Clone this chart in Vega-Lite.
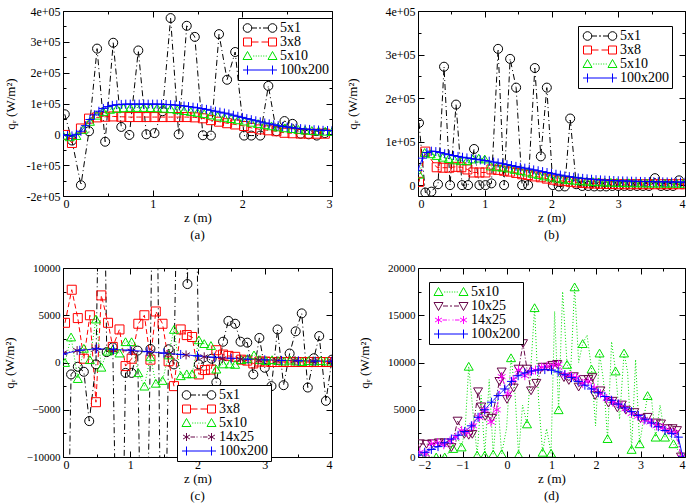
{
"$schema":"https://vega.github.io/schema/vega-lite/v6.json",
"padding":{"left":2,"top":4,"right":2,"bottom":4},
"columns":2,
"spacing":{"row":18,"column":13},
"resolve":{"scale":{"color":"independent","shape":"independent","strokeDash":"independent"}},
"config":{
 "font":"Liberation Serif",
 "view":{"stroke":"#000","strokeWidth":1},
 "axis":{"grid":false,"domain":false,"tickColor":"#000","tickWidth":1,"labelColor":"#000","titleColor":"#000","labelFont":"Liberation Serif","labelFontSize":12,"titleFont":"Liberation Serif","titleFontSize":13,"titleFontWeight":"normal"},
 "legend":{"title":null,"orient":"none","strokeColor":"#000","fillColor":"#fff","padding":3,"labelFont":"Liberation Serif","labelFontSize":14,"labelColor":"#000","symbolOffset":12,"labelOffset":13,"rowPadding":-3,"symbolStrokeWidth":1,"symbolFillColor":"transparent"},
 "title":{"font":"Liberation Serif","fontSize":13,"fontWeight":"normal","orient":"bottom","offset":5,"color":"#000"}
},
"datasets":{
"a":[
{"s":"5x1","z":0.02,"q":65000},{"s":"5x1","z":0.1,"q":-20000},{"s":"5x1","z":0.2,"q":-165000},{"s":"5x1","z":0.29,"q":10000},{"s":"5x1","z":0.38,"q":278000},{"s":"5x1","z":0.47,"q":-24000},{"s":"5x1","z":0.56,"q":297000},{"s":"5x1","z":0.65,"q":24000},{"s":"5x1","z":0.74,"q":-2000},{"s":"5x1","z":0.84,"q":272000},{"s":"5x1","z":0.93,"q":0},{"s":"5x1","z":1.02,"q":4000},{"s":"5x1","z":1.11,"q":75000},{"s":"5x1","z":1.2,"q":377000},{"s":"5x1","z":1.29,"q":0},{"s":"5x1","z":1.38,"q":352000},{"s":"5x1","z":1.47,"q":316000},{"s":"5x1","z":1.56,"q":-3000},{"s":"5x1","z":1.65,"q":-4000},{"s":"5x1","z":1.74,"q":325000},{"s":"5x1","z":1.83,"q":177000},{"s":"5x1","z":1.92,"q":267000},{"s":"5x1","z":2.02,"q":-4000},{"s":"5x1","z":2.1,"q":-4000},{"s":"5x1","z":2.2,"q":-4000},{"s":"5x1","z":2.29,"q":157000},{"s":"5x1","z":2.38,"q":10000},{"s":"5x1","z":2.47,"q":43000},{"s":"5x1","z":2.56,"q":34000},{"s":"5x1","z":2.65,"q":2000},{"s":"5x1","z":2.74,"q":0},{"s":"5x1","z":2.83,"q":-4000},{"s":"5x1","z":2.92,"q":4000},
{"s":"3x8","z":0.02,"q":-2000},{"s":"3x8","z":0.1,"q":-28000},{"s":"3x8","z":0.2,"q":19000},{"s":"3x8","z":0.29,"q":51000},{"s":"3x8","z":0.38,"q":55000},{"s":"3x8","z":0.47,"q":57000},{"s":"3x8","z":0.56,"q":58000},{"s":"3x8","z":0.65,"q":57000},{"s":"3x8","z":0.74,"q":56000},{"s":"3x8","z":0.84,"q":56000},{"s":"3x8","z":0.93,"q":56000},{"s":"3x8","z":1.02,"q":56000},{"s":"3x8","z":1.11,"q":56000},{"s":"3x8","z":1.2,"q":56000},{"s":"3x8","z":1.29,"q":56000},{"s":"3x8","z":1.38,"q":56000},{"s":"3x8","z":1.47,"q":55000},{"s":"3x8","z":1.56,"q":52000},{"s":"3x8","z":1.65,"q":46000},{"s":"3x8","z":1.74,"q":41000},{"s":"3x8","z":1.83,"q":36000},{"s":"3x8","z":1.92,"q":32000},{"s":"3x8","z":2.02,"q":27000},{"s":"3x8","z":2.1,"q":21000},{"s":"3x8","z":2.2,"q":16000},{"s":"3x8","z":2.29,"q":13000},{"s":"3x8","z":2.38,"q":10000},{"s":"3x8","z":2.47,"q":5000},{"s":"3x8","z":2.56,"q":3500},{"s":"3x8","z":2.65,"q":2500},{"s":"3x8","z":2.74,"q":2000},{"s":"3x8","z":2.83,"q":2000},{"s":"3x8","z":2.92,"q":2000},
{"s":"5x10","z":0,"q":-3000},{"s":"5x10","z":0.075,"q":-8000},{"s":"5x10","z":0.15,"q":-4000},{"s":"5x10","z":0.225,"q":16000},{"s":"5x10","z":0.3,"q":42000},{"s":"5x10","z":0.375,"q":62000},{"s":"5x10","z":0.45,"q":74000},{"s":"5x10","z":0.525,"q":81000},{"s":"5x10","z":0.6,"q":84000},{"s":"5x10","z":0.675,"q":86000},{"s":"5x10","z":0.75,"q":87000},{"s":"5x10","z":0.825,"q":87000},{"s":"5x10","z":0.9,"q":87000},{"s":"5x10","z":0.975,"q":86500},{"s":"5x10","z":1.05,"q":86000},{"s":"5x10","z":1.125,"q":84500},{"s":"5x10","z":1.2,"q":83000},{"s":"5x10","z":1.275,"q":80000},{"s":"5x10","z":1.35,"q":77000},{"s":"5x10","z":1.425,"q":74000},{"s":"5x10","z":1.5,"q":71000},{"s":"5x10","z":1.575,"q":67000},{"s":"5x10","z":1.65,"q":63000},{"s":"5x10","z":1.725,"q":59000},{"s":"5x10","z":1.8,"q":55000},{"s":"5x10","z":1.875,"q":51000},{"s":"5x10","z":1.95,"q":47000},{"s":"5x10","z":2.025,"q":43000},{"s":"5x10","z":2.1,"q":39000},{"s":"5x10","z":2.175,"q":35000},{"s":"5x10","z":2.25,"q":31000},{"s":"5x10","z":2.325,"q":27500},{"s":"5x10","z":2.4,"q":24000},{"s":"5x10","z":2.475,"q":21000},{"s":"5x10","z":2.55,"q":18500},{"s":"5x10","z":2.625,"q":16000},{"s":"5x10","z":2.7,"q":14000},{"s":"5x10","z":2.775,"q":12500},{"s":"5x10","z":2.85,"q":11000},{"s":"5x10","z":2.925,"q":10000},{"s":"5x10","z":3.0,"q":9000},
{"s":"100x200","z":0,"q":-2000},{"s":"100x200","z":0.05,"q":-4000},{"s":"100x200","z":0.1,"q":-5000},{"s":"100x200","z":0.15,"q":0},{"s":"100x200","z":0.2,"q":10000},{"s":"100x200","z":0.25,"q":28000},{"s":"100x200","z":0.3,"q":48000},{"s":"100x200","z":0.35,"q":63000},{"s":"100x200","z":0.4,"q":75000},{"s":"100x200","z":0.45,"q":84000},{"s":"100x200","z":0.5,"q":90000},{"s":"100x200","z":0.55,"q":94000},{"s":"100x200","z":0.6,"q":96000},{"s":"100x200","z":0.65,"q":97000},{"s":"100x200","z":0.7,"q":98000},{"s":"100x200","z":0.75,"q":98000},{"s":"100x200","z":0.8,"q":98000},{"s":"100x200","z":0.85,"q":98000},{"s":"100x200","z":0.9,"q":98000},{"s":"100x200","z":0.95,"q":98000},{"s":"100x200","z":1.0,"q":98000},{"s":"100x200","z":1.05,"q":98000},{"s":"100x200","z":1.1,"q":97500},{"s":"100x200","z":1.15,"q":97000},{"s":"100x200","z":1.2,"q":96000},{"s":"100x200","z":1.25,"q":95000},{"s":"100x200","z":1.3,"q":93500},{"s":"100x200","z":1.35,"q":92000},{"s":"100x200","z":1.4,"q":90000},{"s":"100x200","z":1.45,"q":88000},{"s":"100x200","z":1.5,"q":86000},{"s":"100x200","z":1.55,"q":83500},{"s":"100x200","z":1.6,"q":81000},{"s":"100x200","z":1.65,"q":78000},{"s":"100x200","z":1.7,"q":75000},{"s":"100x200","z":1.75,"q":72000},{"s":"100x200","z":1.8,"q":69000},{"s":"100x200","z":1.85,"q":66000},{"s":"100x200","z":1.9,"q":62000},{"s":"100x200","z":1.95,"q":58500},{"s":"100x200","z":2.0,"q":55000},{"s":"100x200","z":2.05,"q":51000},{"s":"100x200","z":2.1,"q":47500},{"s":"100x200","z":2.15,"q":44000},{"s":"100x200","z":2.2,"q":40500},{"s":"100x200","z":2.25,"q":37000},{"s":"100x200","z":2.3,"q":34000},{"s":"100x200","z":2.35,"q":31000},{"s":"100x200","z":2.4,"q":28000},{"s":"100x200","z":2.45,"q":25500},{"s":"100x200","z":2.5,"q":23500},{"s":"100x200","z":2.55,"q":21500},{"s":"100x200","z":2.6,"q":20000},{"s":"100x200","z":2.65,"q":18500},{"s":"100x200","z":2.7,"q":17000},{"s":"100x200","z":2.75,"q":16000},{"s":"100x200","z":2.8,"q":15000},{"s":"100x200","z":2.85,"q":14000},{"s":"100x200","z":2.9,"q":13000},{"s":"100x200","z":2.95,"q":12500},{"s":"100x200","z":3.0,"q":12000}
],
"b":[
{"s":"5x1","z":0.015,"q":143000},{"s":"5x1","z":0.11,"q":-17000},{"s":"5x1","z":0.2,"q":-15000},{"s":"5x1","z":0.3,"q":2000},{"s":"5x1","z":0.39,"q":272000},{"s":"5x1","z":0.48,"q":0},{"s":"5x1","z":0.57,"q":185000},{"s":"5x1","z":0.66,"q":0},{"s":"5x1","z":0.75,"q":0},{"s":"5x1","z":0.84,"q":83000},{"s":"5x1","z":0.92,"q":0},{"s":"5x1","z":1.01,"q":0},{"s":"5x1","z":1.1,"q":4000},{"s":"5x1","z":1.2,"q":313000},{"s":"5x1","z":1.29,"q":0},{"s":"5x1","z":1.38,"q":290000},{"s":"5x1","z":1.47,"q":224000},{"s":"5x1","z":1.56,"q":0},{"s":"5x1","z":1.65,"q":0},{"s":"5x1","z":1.75,"q":269000},{"s":"5x1","z":1.84,"q":66000},{"s":"5x1","z":1.93,"q":224000},{"s":"5x1","z":2.02,"q":0},{"s":"5x1","z":2.11,"q":-3000},{"s":"5x1","z":2.2,"q":-3000},{"s":"5x1","z":2.28,"q":153000},{"s":"5x1","z":2.37,"q":2000},{"s":"5x1","z":2.46,"q":-2000},{"s":"5x1","z":2.55,"q":-2000},{"s":"5x1","z":2.64,"q":-3000},{"s":"5x1","z":2.73,"q":-3000},{"s":"5x1","z":2.82,"q":-3000},{"s":"5x1","z":2.91,"q":-2000},{"s":"5x1","z":3.0,"q":-2000},{"s":"5x1","z":3.09,"q":-2000},{"s":"5x1","z":3.18,"q":-2000},{"s":"5x1","z":3.28,"q":-2000},{"s":"5x1","z":3.37,"q":-2000},{"s":"5x1","z":3.46,"q":-2000},{"s":"5x1","z":3.55,"q":16000},{"s":"5x1","z":3.64,"q":-2000},{"s":"5x1","z":3.73,"q":-2000},{"s":"5x1","z":3.82,"q":-2000},{"s":"5x1","z":3.91,"q":11000},
{"s":"3x8","z":0.015,"q":7500},{"s":"3x8","z":0.11,"q":77000},{"s":"3x8","z":0.28,"q":41000},{"s":"3x8","z":0.37,"q":40000},{"s":"3x8","z":0.47,"q":40000},{"s":"3x8","z":0.56,"q":42000},{"s":"3x8","z":0.65,"q":41000},{"s":"3x8","z":0.74,"q":36000},{"s":"3x8","z":0.83,"q":29000},{"s":"3x8","z":0.92,"q":29000},{"s":"3x8","z":1.01,"q":29000},{"s":"3x8","z":1.1,"q":36000},{"s":"3x8","z":1.2,"q":35000},{"s":"3x8","z":1.29,"q":33000},{"s":"3x8","z":1.38,"q":31000},{"s":"3x8","z":1.47,"q":28000},{"s":"3x8","z":1.56,"q":25000},{"s":"3x8","z":1.65,"q":23000},{"s":"3x8","z":1.75,"q":20000},{"s":"3x8","z":1.84,"q":18000},{"s":"3x8","z":1.93,"q":15000},{"s":"3x8","z":2.02,"q":12500},{"s":"3x8","z":2.11,"q":10500},{"s":"3x8","z":2.2,"q":9000},{"s":"3x8","z":2.29,"q":7500},{"s":"3x8","z":2.38,"q":6000},{"s":"3x8","z":2.47,"q":5000},{"s":"3x8","z":2.56,"q":4000},{"s":"3x8","z":2.65,"q":3500},{"s":"3x8","z":2.74,"q":3000},{"s":"3x8","z":2.83,"q":2500},{"s":"3x8","z":2.92,"q":2500},{"s":"3x8","z":3.01,"q":2000},{"s":"3x8","z":3.1,"q":2000},{"s":"3x8","z":3.19,"q":2000},{"s":"3x8","z":3.28,"q":2000},{"s":"3x8","z":3.37,"q":2000},{"s":"3x8","z":3.46,"q":2000},{"s":"3x8","z":3.55,"q":2000},{"s":"3x8","z":3.64,"q":2000},{"s":"3x8","z":3.73,"q":2000},{"s":"3x8","z":3.82,"q":2000},{"s":"3x8","z":3.91,"q":2000},{"s":"3x8","z":4.0,"q":2000},
{"s":"5x10","z":0.02,"q":25000},{"s":"5x10","z":0.1,"q":75000},{"s":"5x10","z":0.19,"q":72000},{"s":"5x10","z":0.28,"q":68000},{"s":"5x10","z":0.37,"q":64000},{"s":"5x10","z":0.46,"q":61000},{"s":"5x10","z":0.55,"q":58000},{"s":"5x10","z":0.64,"q":56000},{"s":"5x10","z":0.73,"q":56000},{"s":"5x10","z":0.82,"q":60000},{"s":"5x10","z":0.91,"q":62000},{"s":"5x10","z":1.0,"q":60000},{"s":"5x10","z":1.09,"q":44000},{"s":"5x10","z":1.18,"q":42000},{"s":"5x10","z":1.27,"q":41000},{"s":"5x10","z":1.36,"q":39000},{"s":"5x10","z":1.45,"q":36000},{"s":"5x10","z":1.54,"q":33000},{"s":"5x10","z":1.63,"q":30000},{"s":"5x10","z":1.72,"q":27000},{"s":"5x10","z":1.81,"q":24000},{"s":"5x10","z":1.9,"q":21000},{"s":"5x10","z":1.99,"q":18500},{"s":"5x10","z":2.08,"q":16000},{"s":"5x10","z":2.17,"q":14000},{"s":"5x10","z":2.26,"q":12500},{"s":"5x10","z":2.35,"q":11000},{"s":"5x10","z":2.44,"q":10000},{"s":"5x10","z":2.53,"q":9000},{"s":"5x10","z":2.62,"q":8200},{"s":"5x10","z":2.71,"q":7500},{"s":"5x10","z":2.8,"q":7000},{"s":"5x10","z":2.89,"q":6500},{"s":"5x10","z":2.98,"q":6000},{"s":"5x10","z":3.07,"q":5700},{"s":"5x10","z":3.16,"q":5400},{"s":"5x10","z":3.25,"q":5200},{"s":"5x10","z":3.34,"q":5000},{"s":"5x10","z":3.43,"q":4800},{"s":"5x10","z":3.52,"q":4600},{"s":"5x10","z":3.61,"q":4500},{"s":"5x10","z":3.7,"q":4400},{"s":"5x10","z":3.79,"q":4300},{"s":"5x10","z":3.88,"q":4200},{"s":"5x10","z":3.97,"q":4100},
{"s":"100x200","z":0,"q":34000},{"s":"100x200","z":0.067,"q":62000},{"s":"100x200","z":0.133,"q":75000},{"s":"100x200","z":0.2,"q":78000},{"s":"100x200","z":0.267,"q":77000},{"s":"100x200","z":0.333,"q":75000},{"s":"100x200","z":0.4,"q":72000},{"s":"100x200","z":0.467,"q":70000},{"s":"100x200","z":0.533,"q":68000},{"s":"100x200","z":0.6,"q":66000},{"s":"100x200","z":0.667,"q":64000},{"s":"100x200","z":0.733,"q":62500},{"s":"100x200","z":0.8,"q":61000},{"s":"100x200","z":0.867,"q":59500},{"s":"100x200","z":0.933,"q":58000},{"s":"100x200","z":1.0,"q":56500},{"s":"100x200","z":1.067,"q":55000},{"s":"100x200","z":1.133,"q":53000},{"s":"100x200","z":1.2,"q":51000},{"s":"100x200","z":1.267,"q":49000},{"s":"100x200","z":1.333,"q":47000},{"s":"100x200","z":1.4,"q":45000},{"s":"100x200","z":1.467,"q":43000},{"s":"100x200","z":1.533,"q":41000},{"s":"100x200","z":1.6,"q":39000},{"s":"100x200","z":1.667,"q":37000},{"s":"100x200","z":1.733,"q":35000},{"s":"100x200","z":1.8,"q":33000},{"s":"100x200","z":1.867,"q":31000},{"s":"100x200","z":1.933,"q":29000},{"s":"100x200","z":2.0,"q":27000},{"s":"100x200","z":2.067,"q":25000},{"s":"100x200","z":2.133,"q":23000},{"s":"100x200","z":2.2,"q":21000},{"s":"100x200","z":2.267,"q":19500},{"s":"100x200","z":2.333,"q":18000},{"s":"100x200","z":2.4,"q":16500},{"s":"100x200","z":2.467,"q":15500},{"s":"100x200","z":2.533,"q":14500},{"s":"100x200","z":2.6,"q":13500},{"s":"100x200","z":2.667,"q":12500},{"s":"100x200","z":2.733,"q":12000},{"s":"100x200","z":2.8,"q":11500},{"s":"100x200","z":2.867,"q":11000},{"s":"100x200","z":2.933,"q":10500},{"s":"100x200","z":3.0,"q":10000},{"s":"100x200","z":3.067,"q":9700},{"s":"100x200","z":3.133,"q":9400},{"s":"100x200","z":3.2,"q":9100},{"s":"100x200","z":3.267,"q":8800},{"s":"100x200","z":3.333,"q":8500},{"s":"100x200","z":3.4,"q":8300},{"s":"100x200","z":3.467,"q":8100},{"s":"100x200","z":3.533,"q":7900},{"s":"100x200","z":3.6,"q":7700},{"s":"100x200","z":3.667,"q":7500},{"s":"100x200","z":3.733,"q":7300},{"s":"100x200","z":3.8,"q":7100},{"s":"100x200","z":3.867,"q":7000},{"s":"100x200","z":3.933,"q":6900},{"s":"100x200","z":4.0,"q":6800}
],
"c":[
{"s":"5x1","z":0.03,"q":-40000},{"s":"5x1","z":0.12,"q":-1260},{"s":"5x1","z":0.22,"q":-450},{"s":"5x1","z":0.31,"q":-980},{"s":"5x1","z":0.39,"q":-6200},{"s":"5x1","z":0.49,"q":-200},{"s":"5x1","z":0.58,"q":40000},{"s":"5x1","z":0.65,"q":1100},{"s":"5x1","z":0.74,"q":1600},{"s":"5x1","z":0.84,"q":-40000},{"s":"5x1","z":0.93,"q":-1100},{"s":"5x1","z":1.02,"q":-1100},{"s":"5x1","z":1.11,"q":1260},{"s":"5x1","z":1.2,"q":-40000},{"s":"5x1","z":1.3,"q":1430},{"s":"5x1","z":1.37,"q":40000},{"s":"5x1","z":1.48,"q":-40000},{"s":"5x1","z":1.57,"q":1400},{"s":"5x1","z":1.65,"q":-200},{"s":"5x1","z":1.75,"q":40000},{"s":"5x1","z":1.85,"q":8300},{"s":"5x1","z":1.93,"q":40000},{"s":"5x1","z":2.02,"q":-200},{"s":"5x1","z":2.21,"q":400},{"s":"5x1","z":2.28,"q":-2100},{"s":"5x1","z":2.38,"q":2200},{"s":"5x1","z":2.46,"q":4400},{"s":"5x1","z":2.56,"q":4100},{"s":"5x1","z":2.64,"q":2200},{"s":"5x1","z":2.74,"q":2100},{"s":"5x1","z":2.83,"q":-1260},{"s":"5x1","z":2.92,"q":2600},{"s":"5x1","z":3.0,"q":-560},{"s":"5x1","z":3.1,"q":-2500},{"s":"5x1","z":3.19,"q":3500},{"s":"5x1","z":3.28,"q":-2400},{"s":"5x1","z":3.37,"q":950},{"s":"5x1","z":3.46,"q":3300},{"s":"5x1","z":3.55,"q":5200},{"s":"5x1","z":3.64,"q":-2650},{"s":"5x1","z":3.73,"q":450},{"s":"5x1","z":3.81,"q":2800},{"s":"5x1","z":3.91,"q":-4060},{"s":"5x1","z":4.0,"q":300},
{"s":"3x8","z":0.03,"q":4200},{"s":"3x8","z":0.13,"q":7700},{"s":"3x8","z":0.22,"q":4700},{"s":"3x8","z":0.31,"q":400},{"s":"3x8","z":0.4,"q":5000},{"s":"3x8","z":0.49,"q":-4200},{"s":"3x8","z":0.57,"q":7100},{"s":"3x8","z":0.67,"q":4200},{"s":"3x8","z":0.74,"q":1650},{"s":"3x8","z":0.84,"q":3500},{"s":"3x8","z":0.93,"q":-380},{"s":"3x8","z":1.02,"q":400},{"s":"3x8","z":1.12,"q":4100},{"s":"3x8","z":1.21,"q":5000},{"s":"3x8","z":1.3,"q":300},{"s":"3x8","z":1.38,"q":5400},{"s":"3x8","z":1.48,"q":4100},{"s":"3x8","z":1.57,"q":130},{"s":"3x8","z":1.65,"q":-2500},{"s":"3x8","z":1.75,"q":3500},{"s":"3x8","z":1.84,"q":2900},{"s":"3x8","z":1.92,"q":2700},{"s":"3x8","z":2.02,"q":-1260},{"s":"3x8","z":2.11,"q":-800},{"s":"3x8","z":2.2,"q":-750},{"s":"3x8","z":2.28,"q":1300},{"s":"3x8","z":2.38,"q":840},{"s":"3x8","z":2.46,"q":700},{"s":"3x8","z":2.56,"q":600},{"s":"3x8","z":2.65,"q":300},{"s":"3x8","z":2.74,"q":200},{"s":"3x8","z":2.83,"q":-100},{"s":"3x8","z":2.92,"q":100},{"s":"3x8","z":3.01,"q":100},{"s":"3x8","z":3.1,"q":50},{"s":"3x8","z":3.19,"q":50},{"s":"3x8","z":3.28,"q":50},{"s":"3x8","z":3.37,"q":50},{"s":"3x8","z":3.46,"q":50},{"s":"3x8","z":3.55,"q":50},{"s":"3x8","z":3.64,"q":50},{"s":"3x8","z":3.73,"q":50},{"s":"3x8","z":3.82,"q":50},{"s":"3x8","z":3.91,"q":50},{"s":"3x8","z":4.0,"q":50},
{"s":"5x10","z":0.03,"q":0},{"s":"5x10","z":0.12,"q":2700},{"s":"5x10","z":0.22,"q":-1700},{"s":"5x10","z":0.31,"q":1500},{"s":"5x10","z":0.4,"q":300},{"s":"5x10","z":0.49,"q":4600},{"s":"5x10","z":0.57,"q":-500},{"s":"5x10","z":0.66,"q":1200},{"s":"5x10","z":0.74,"q":1400},{"s":"5x10","z":0.84,"q":1000},{"s":"5x10","z":0.93,"q":2200},{"s":"5x10","z":1.02,"q":2200},{"s":"5x10","z":1.12,"q":-1080},{"s":"5x10","z":1.21,"q":-2500},{"s":"5x10","z":1.3,"q":600},{"s":"5x10","z":1.38,"q":-2200},{"s":"5x10","z":1.48,"q":-1900},{"s":"5x10","z":1.57,"q":800},{"s":"5x10","z":1.65,"q":3500},{"s":"5x10","z":1.75,"q":-1400},{"s":"5x10","z":1.84,"q":-1200},{"s":"5x10","z":1.92,"q":-1200},{"s":"5x10","z":2.02,"q":2400},{"s":"5x10","z":2.1,"q":2000},{"s":"5x10","z":2.2,"q":1800},{"s":"5x10","z":2.28,"q":-700},{"s":"5x10","z":2.38,"q":-150},{"s":"5x10","z":2.48,"q":-150},{"s":"5x10","z":2.56,"q":-200},{"s":"5x10","z":2.65,"q":300},{"s":"5x10","z":2.74,"q":400},{"s":"5x10","z":2.84,"q":800},{"s":"5x10","z":2.93,"q":300},{"s":"5x10","z":3.02,"q":200},{"s":"5x10","z":3.11,"q":300},{"s":"5x10","z":3.2,"q":200},{"s":"5x10","z":3.29,"q":150},{"s":"5x10","z":3.38,"q":250},{"s":"5x10","z":3.47,"q":150},{"s":"5x10","z":3.56,"q":100},{"s":"5x10","z":3.65,"q":200},{"s":"5x10","z":3.74,"q":150},{"s":"5x10","z":3.83,"q":200},{"s":"5x10","z":3.92,"q":150},
{"s":"14x25","z":0,"q":1000},{"s":"14x25","z":0.21,"q":1260},{"s":"14x25","z":0.48,"q":1400},{"s":"14x25","z":0.75,"q":1300},{"s":"14x25","z":1.02,"q":1200},{"s":"14x25","z":1.29,"q":1100},{"s":"14x25","z":1.56,"q":900},{"s":"14x25","z":1.83,"q":800},{"s":"14x25","z":2.1,"q":600},{"s":"14x25","z":2.37,"q":400},{"s":"14x25","z":2.64,"q":350},{"s":"14x25","z":2.91,"q":250},{"s":"14x25","z":3.18,"q":200},{"s":"14x25","z":3.45,"q":200},{"s":"14x25","z":3.72,"q":150},{"s":"14x25","z":4.0,"q":150},
{"s":"100x200","z":0,"q":900},{"s":"100x200","z":0.25,"q":1300},{"s":"100x200","z":0.5,"q":1450},{"s":"100x200","z":0.75,"q":1400},{"s":"100x200","z":1.0,"q":1300},{"s":"100x200","z":1.25,"q":1150},{"s":"100x200","z":1.5,"q":1000},{"s":"100x200","z":1.75,"q":850},{"s":"100x200","z":2.0,"q":700},{"s":"100x200","z":2.25,"q":550},{"s":"100x200","z":2.5,"q":450},{"s":"100x200","z":2.75,"q":350},{"s":"100x200","z":3.0,"q":280},{"s":"100x200","z":3.25,"q":220},{"s":"100x200","z":3.5,"q":180},{"s":"100x200","z":3.75,"q":150},{"s":"100x200","z":4.0,"q":130}
],
"d":[
{"s":"5x10","z":-1.96,"q":200},{"s":"5x10","z":-1.87,"q":0},{"s":"5x10","z":-1.79,"q":0},{"s":"5x10","z":-1.69,"q":0},{"s":"5x10","z":-1.59,"q":0},{"s":"5x10","z":-1.5,"q":0},{"s":"5x10","z":-1.4,"q":0},{"s":"5x10","z":-1.3,"q":500},{"s":"5x10","z":-1.21,"q":900},{"s":"5x10","z":-1.11,"q":2000},{"s":"5x10","z":-1.02,"q":1060},{"s":"5x10","z":-0.94,"q":3000},{"s":"5x10","z":-0.86,"q":9600},{"s":"5x10","z":-0.76,"q":4500},{"s":"5x10","z":-0.67,"q":200},{"s":"5x10","z":-0.58,"q":6500},{"s":"5x10","z":-0.5,"q":200},{"s":"5x10","z":-0.4,"q":8200},{"s":"5x10","z":-0.31,"q":300},{"s":"5x10","z":-0.21,"q":6000},{"s":"5x10","z":-0.12,"q":350},{"s":"5x10","z":-0.01,"q":3000},{"s":"5x10","z":0.09,"q":10500},{"s":"5x10","z":0.17,"q":7500},{"s":"5x10","z":0.26,"q":250},{"s":"5x10","z":0.35,"q":5500},{"s":"5x10","z":0.45,"q":3500},{"s":"5x10","z":0.53,"q":9000},{"s":"5x10","z":0.62,"q":15800},{"s":"5x10","z":0.71,"q":6000},{"s":"5x10","z":0.8,"q":500},{"s":"5x10","z":0.89,"q":3000},{"s":"5x10","z":0.99,"q":400},{"s":"5x10","z":1.07,"q":15400},{"s":"5x10","z":1.16,"q":5000},{"s":"5x10","z":1.25,"q":17500},{"s":"5x10","z":1.35,"q":9800},{"s":"5x10","z":1.43,"q":9000},{"s":"5x10","z":1.52,"q":18000},{"s":"5x10","z":1.61,"q":10000},{"s":"5x10","z":1.7,"q":12000},{"s":"5x10","z":1.8,"q":12900},{"s":"5x10","z":1.9,"q":9300},{"s":"5x10","z":1.99,"q":3300},{"s":"5x10","z":2.08,"q":11000},{"s":"5x10","z":2.17,"q":8000},{"s":"5x10","z":2.26,"q":1950},{"s":"5x10","z":2.35,"q":12200},{"s":"5x10","z":2.44,"q":9100},{"s":"5x10","z":2.53,"q":4000},{"s":"5x10","z":2.63,"q":11000},{"s":"5x10","z":2.71,"q":9000},{"s":"5x10","z":2.8,"q":800},{"s":"5x10","z":2.89,"q":10300},{"s":"5x10","z":2.98,"q":1400},{"s":"5x10","z":3.07,"q":4000},{"s":"5x10","z":3.16,"q":6500},{"s":"5x10","z":3.25,"q":6000},{"s":"5x10","z":3.34,"q":2100},{"s":"5x10","z":3.44,"q":5500},{"s":"5x10","z":3.55,"q":2100},{"s":"5x10","z":3.64,"q":2500},{"s":"5x10","z":3.74,"q":1400},{"s":"5x10","z":3.83,"q":800},{"s":"5x10","z":3.92,"q":0},
{"s":"10x25","z":-1.96,"q":1400},{"s":"10x25","z":-1.81,"q":1350},{"s":"10x25","z":-1.68,"q":1400},{"s":"10x25","z":-1.53,"q":1500},{"s":"10x25","z":-1.4,"q":1500},{"s":"10x25","z":-1.25,"q":1000},{"s":"10x25","z":-1.11,"q":3800},{"s":"10x25","z":-0.96,"q":2400},{"s":"10x25","z":-0.86,"q":2300},{"s":"10x25","z":-0.78,"q":2400},{"s":"10x25","z":-0.65,"q":6900},{"s":"10x25","z":-0.58,"q":5300},{"s":"10x25","z":-0.49,"q":4300},{"s":"10x25","z":-0.34,"q":4100},{"s":"10x25","z":-0.17,"q":8000},{"s":"10x25","z":-0.12,"q":9000},{"s":"10x25","z":0.0,"q":6100},{"s":"10x25","z":0.15,"q":7300},{"s":"10x25","z":0.26,"q":9300},{"s":"10x25","z":0.36,"q":12000},{"s":"10x25","z":0.45,"q":9300},{"s":"10x25","z":0.54,"q":7000},{"s":"10x25","z":0.66,"q":7800},{"s":"10x25","z":0.8,"q":9500},{"s":"10x25","z":0.92,"q":9500},{"s":"10x25","z":1.02,"q":9700},{"s":"10x25","z":1.13,"q":9800},{"s":"10x25","z":1.28,"q":8400},{"s":"10x25","z":1.39,"q":8100},{"s":"10x25","z":1.5,"q":8500},{"s":"10x25","z":1.61,"q":7400},{"s":"10x25","z":1.72,"q":8200},{"s":"10x25","z":1.83,"q":8200},{"s":"10x25","z":1.92,"q":8400},{"s":"10x25","z":1.98,"q":6500},{"s":"10x25","z":2.1,"q":7000},{"s":"10x25","z":2.28,"q":5700},{"s":"10x25","z":2.37,"q":5900},{"s":"10x25","z":2.48,"q":5200},{"s":"10x25","z":2.58,"q":5500},{"s":"10x25","z":2.67,"q":4950},{"s":"10x25","z":2.86,"q":4700},{"s":"10x25","z":3.0,"q":4060},{"s":"10x25","z":3.16,"q":4200},{"s":"10x25","z":3.35,"q":3600},{"s":"10x25","z":3.46,"q":3500},{"s":"10x25","z":3.61,"q":3000},{"s":"10x25","z":3.72,"q":3000},{"s":"10x25","z":3.82,"q":2800},{"s":"10x25","z":3.91,"q":0},
{"s":"14x25","z":-1.96,"q":500},{"s":"14x25","z":-1.82,"q":300},{"s":"14x25","z":-1.7,"q":1400},{"s":"14x25","z":-1.56,"q":1500},{"s":"14x25","z":-1.42,"q":1300},{"s":"14x25","z":-1.28,"q":1700},{"s":"14x25","z":-1.15,"q":2100},{"s":"14x25","z":-1.02,"q":2800},{"s":"14x25","z":-0.9,"q":2600},{"s":"14x25","z":-0.76,"q":3300},{"s":"14x25","z":-0.62,"q":4200},{"s":"14x25","z":-0.5,"q":5000},{"s":"14x25","z":-0.36,"q":3700},{"s":"14x25","z":-0.23,"q":5000},{"s":"14x25","z":-0.12,"q":8500},{"s":"14x25","z":0.02,"q":6700},{"s":"14x25","z":0.14,"q":8200},{"s":"14x25","z":0.26,"q":9200},{"s":"14x25","z":0.4,"q":8600},{"s":"14x25","z":0.52,"q":9000},{"s":"14x25","z":0.64,"q":9200},{"s":"14x25","z":0.78,"q":9500},{"s":"14x25","z":0.9,"q":9600},{"s":"14x25","z":1.04,"q":9700},{"s":"14x25","z":1.16,"q":9800},{"s":"14x25","z":1.3,"q":8700},{"s":"14x25","z":1.44,"q":8600},{"s":"14x25","z":1.56,"q":8400},{"s":"14x25","z":1.7,"q":7800},{"s":"14x25","z":1.82,"q":8000},{"s":"14x25","z":1.96,"q":7300},{"s":"14x25","z":2.1,"q":6700},{"s":"14x25","z":2.24,"q":6200},{"s":"14x25","z":2.38,"q":5800},{"s":"14x25","z":2.52,"q":5600},{"s":"14x25","z":2.66,"q":5100},{"s":"14x25","z":2.8,"q":4600},{"s":"14x25","z":2.94,"q":4300},{"s":"14x25","z":3.08,"q":3900},{"s":"14x25","z":3.22,"q":3700},{"s":"14x25","z":3.36,"q":3300},{"s":"14x25","z":3.5,"q":3100},{"s":"14x25","z":3.64,"q":2800},{"s":"14x25","z":3.78,"q":2600},{"s":"14x25","z":3.92,"q":0},
{"s":"100x200","z":-2.0,"q":200},{"s":"100x200","z":-1.85,"q":500},{"s":"100x200","z":-1.7,"q":800},{"s":"100x200","z":-1.55,"q":1100},{"s":"100x200","z":-1.4,"q":1500},{"s":"100x200","z":-1.25,"q":1900},{"s":"100x200","z":-1.1,"q":2300},{"s":"100x200","z":-0.95,"q":2700},{"s":"100x200","z":-0.8,"q":3300},{"s":"100x200","z":-0.65,"q":4200},{"s":"100x200","z":-0.5,"q":5000},{"s":"100x200","z":-0.35,"q":5800},{"s":"100x200","z":-0.2,"q":6500},{"s":"100x200","z":-0.05,"q":7200},{"s":"100x200","z":0.1,"q":8000},{"s":"100x200","z":0.25,"q":8600},{"s":"100x200","z":0.4,"q":8900},{"s":"100x200","z":0.55,"q":9100},{"s":"100x200","z":0.7,"q":9200},{"s":"100x200","z":0.85,"q":9250},{"s":"100x200","z":1.0,"q":9200},{"s":"100x200","z":1.15,"q":9000},{"s":"100x200","z":1.3,"q":8700},{"s":"100x200","z":1.45,"q":8400},{"s":"100x200","z":1.6,"q":8000},{"s":"100x200","z":1.75,"q":7600},{"s":"100x200","z":1.9,"q":7200},{"s":"100x200","z":2.05,"q":6800},{"s":"100x200","z":2.2,"q":6400},{"s":"100x200","z":2.35,"q":6000},{"s":"100x200","z":2.5,"q":5600},{"s":"100x200","z":2.65,"q":5200},{"s":"100x200","z":2.8,"q":4800},{"s":"100x200","z":2.95,"q":4400},{"s":"100x200","z":3.1,"q":4000},{"s":"100x200","z":3.25,"q":3600},{"s":"100x200","z":3.4,"q":3200},{"s":"100x200","z":3.55,"q":2800},{"s":"100x200","z":3.7,"q":2500},{"s":"100x200","z":3.85,"q":2100},{"s":"100x200","z":3.95,"q":0}
]
},
"concat":[
{
 "width":269,"height":185,
 "title":{"text":"(a)"},
 "data":{"name":"a"},
 "resolve":{"scale":{"color":"independent","shape":"independent","strokeDash":"independent"},"axis":{"x":"independent","y":"independent"}},
 "layer":[
  {"mark":{"type":"line","strokeWidth":1,"clip":true},
   "encoding":{
    "x":{"field":"z","type":"quantitative","scale":{"domain":[0,3],"nice":false,"zero":false},"axis":{"orient":"bottom","values":[0,0.5,1,1.5,2,2.5,3],"labelExpr":"datum.value % 1 !== 0 ? '' : format(datum.value, 'd')","tickSize":{"condition":{"test":"datum.value % 1 !== 0","value":-3},"value":-6},"labelPadding":8,"title":"z (m)","titlePadding":2}},
    "y":{"field":"q","type":"quantitative","scale":{"domain":[-200000,400000],"nice":false,"zero":false},"axis":{"orient":"left","values":[-200000,-150000,-100000,-50000,0,50000,100000,150000,200000,250000,300000,350000,400000],"labelExpr":"datum.value % 100000 !== 0 ? '' : datum.value === 0 ? '0' : (datum.value < 0 ? '-' : '') + format(abs(datum.value) / 100000, 'd') + 'e+05'","tickSize":{"condition":{"test":"datum.value % 100000 !== 0","value":-3},"value":-6},"labelPadding":9,"title":"q\u1d63 (W/m\u00b2)","titlePadding":8}},
    "color":{"field":"s","type":"nominal","scale":{"domain":["5x1","3x8","5x10","100x200"],"range":["#000000","#ff0000","#00e000","#0000ff"]},"legend":null},
    "strokeDash":{"field":"s","type":"nominal","scale":{"domain":["5x1","3x8","5x10","100x200"],"range":[[6,3,1,3],[5,3],[1,2],[1,0]]},"legend":null}
   }},
  {"mark":{"type":"point","filled":false,"strokeWidth":1,"size":81,"opacity":1,"clip":true},
   "encoding":{
    "x":{"field":"z","type":"quantitative","scale":{"domain":[0,3],"nice":false,"zero":false},"axis":{"orient":"top","values":[0,0.5,1,1.5,2,2.5,3],"labels":false,"title":null,"tickSize":{"condition":{"test":"datum.value % 1 !== 0","value":-3},"value":-6}}},
    "y":{"field":"q","type":"quantitative","scale":{"domain":[-200000,400000],"nice":false,"zero":false},"axis":{"orient":"right","values":[-200000,-150000,-100000,-50000,0,50000,100000,150000,200000,250000,300000,350000,400000],"labels":false,"title":null,"tickSize":{"condition":{"test":"datum.value % 100000 !== 0","value":-3},"value":-6}}},
    "color":{"field":"s","type":"nominal","scale":{"domain":["5x1","3x8","5x10","100x200"],"range":["#000000","#ff0000","#00e000","#0000ff"]},"legend":null},
    "shape":{"field":"s","type":"nominal","scale":{"domain":["5x1","3x8","5x10","100x200"],"range":["circle","square","triangle-up","M-1,0H1M0,-1V1"]},"legend":null}
   }},
  {"transform":[{"filter":"false"}],
   "mark":{"type":"point","filled":false,"strokeWidth":1,"size":100,"opacity":1},
   "encoding":{
    "color":{"field":"s","type":"nominal","scale":{"domain":["5x1","3x8","5x10","100x200"],"range":["#000000","#ff0000","#00e000","#0000ff"]},"legend":{"legendX":175,"legendY":7}},
    "shape":{"field":"s","type":"nominal","scale":{"domain":["5x1","3x8","5x10","100x200"],"range":["M-3.36,0A0.86,0.86 0 1,0 -1.64,0A0.86,0.86 0 1,0 -3.36,0M1.64,0A0.86,0.86 0 1,0 3.36,0A0.86,0.86 0 1,0 1.64,0M-1.64,0H-0.6M-0.2,0H0.2M0.6,0H1.64","M-3.3,-0.8H-1.7V0.8H-3.3ZM1.7,-0.8H3.3V0.8H1.7ZM-1.7,0H-0.3M0.3,0H1.7","M-2.5,-0.9L-1.6,0.7H-3.4ZM2.5,-0.9L3.4,0.7H1.6ZM-1.35,0H-1.15M-0.85,0H-0.65M-0.35,0H-0.15M0.15,0H0.35M0.65,0H0.85M1.15,0H1.35","M-3.4,0H3.4M-2.5,-0.9V0.9M2.5,-0.9V0.9"]},"legend":{"legendX":175,"legendY":7}}
   }}
 ]
},
{
 "width":267,"height":185,
 "title":{"text":"(b)"},
 "data":{"name":"b"},
 "resolve":{"scale":{"color":"independent","shape":"independent","strokeDash":"independent"},"axis":{"x":"independent","y":"independent"}},
 "layer":[
  {"mark":{"type":"line","strokeWidth":1,"clip":true},
   "encoding":{
    "x":{"field":"z","type":"quantitative","scale":{"domain":[0,4],"nice":false,"zero":false},"axis":{"orient":"bottom","values":[0,0.5,1,1.5,2,2.5,3,3.5,4],"labelExpr":"datum.value % 1 !== 0 ? '' : format(datum.value, 'd')","tickSize":{"condition":{"test":"datum.value % 1 !== 0","value":-3},"value":-6},"labelPadding":8,"title":"z (m)","titlePadding":2}},
    "y":{"field":"q","type":"quantitative","scale":{"domain":[-25000,400000],"nice":false,"zero":false},"axis":{"orient":"left","values":[0,50000,100000,150000,200000,250000,300000,350000,400000],"labelExpr":"datum.value % 100000 !== 0 ? '' : datum.value === 0 ? '0' : (datum.value < 0 ? '-' : '') + format(abs(datum.value) / 100000, 'd') + 'e+05'","tickSize":{"condition":{"test":"datum.value % 100000 !== 0","value":-3},"value":-6},"labelPadding":9,"title":"q\u1d63 (W/m\u00b2)","titlePadding":25}},
    "color":{"field":"s","type":"nominal","scale":{"domain":["5x1","3x8","5x10","100x200"],"range":["#000000","#ff0000","#00e000","#0000ff"]},"legend":null},
    "strokeDash":{"field":"s","type":"nominal","scale":{"domain":["5x1","3x8","5x10","100x200"],"range":[[6,3,1,3],[5,3],[1,2],[1,0]]},"legend":null}
   }},
  {"mark":{"type":"point","filled":false,"strokeWidth":1,"size":81,"opacity":1,"clip":true},
   "encoding":{
    "x":{"field":"z","type":"quantitative","scale":{"domain":[0,4],"nice":false,"zero":false},"axis":{"orient":"top","values":[0,0.5,1,1.5,2,2.5,3,3.5,4],"labels":false,"title":null,"tickSize":{"condition":{"test":"datum.value % 1 !== 0","value":-3},"value":-6}}},
    "y":{"field":"q","type":"quantitative","scale":{"domain":[-25000,400000],"nice":false,"zero":false},"axis":{"orient":"right","values":[0,50000,100000,150000,200000,250000,300000,350000,400000],"labels":false,"title":null,"tickSize":{"condition":{"test":"datum.value % 100000 !== 0","value":-3},"value":-6}}},
    "color":{"field":"s","type":"nominal","scale":{"domain":["5x1","3x8","5x10","100x200"],"range":["#000000","#ff0000","#00e000","#0000ff"]},"legend":null},
    "shape":{"field":"s","type":"nominal","scale":{"domain":["5x1","3x8","5x10","100x200"],"range":["circle","square","triangle-up","M-1,0H1M0,-1V1"]},"legend":null}
   }},
  {"transform":[{"filter":"false"}],
   "mark":{"type":"point","filled":false,"strokeWidth":1,"size":100,"opacity":1},
   "encoding":{
    "color":{"field":"s","type":"nominal","scale":{"domain":["5x1","3x8","5x10","100x200"],"range":["#000000","#ff0000","#00e000","#0000ff"]},"legend":{"legendX":160,"legendY":15}},
    "shape":{"field":"s","type":"nominal","scale":{"domain":["5x1","3x8","5x10","100x200"],"range":["M-3.36,0A0.86,0.86 0 1,0 -1.64,0A0.86,0.86 0 1,0 -3.36,0M1.64,0A0.86,0.86 0 1,0 3.36,0A0.86,0.86 0 1,0 1.64,0M-1.64,0H-0.6M-0.2,0H0.2M0.6,0H1.64","M-3.3,-0.8H-1.7V0.8H-3.3ZM1.7,-0.8H3.3V0.8H1.7ZM-1.7,0H-0.3M0.3,0H1.7","M-2.5,-0.9L-1.6,0.7H-3.4ZM2.5,-0.9L3.4,0.7H1.6ZM-1.35,0H-1.15M-0.85,0H-0.65M-0.35,0H-0.15M0.15,0H0.35M0.65,0H0.85M1.15,0H1.35","M-3.4,0H3.4M-2.5,-0.9V0.9M2.5,-0.9V0.9"]},"legend":{"legendX":160,"legendY":15}}
   }}
 ]
},
{
 "width":269,"height":189,
 "title":{"text":"(c)"},
 "data":{"name":"c"},
 "resolve":{"scale":{"color":"independent","shape":"independent","strokeDash":"independent"},"axis":{"x":"independent","y":"independent"}},
 "layer":[
  {"mark":{"type":"line","strokeWidth":1,"clip":true},
   "encoding":{
    "x":{"field":"z","type":"quantitative","scale":{"domain":[0,4],"nice":false,"zero":false},"axis":{"orient":"bottom","values":[0,0.5,1,1.5,2,2.5,3,3.5,4],"labelExpr":"datum.value % 1 !== 0 ? '' : format(datum.value, 'd')","tickSize":{"condition":{"test":"datum.value % 1 !== 0","value":-3},"value":-6},"labelPadding":8,"title":"z (m)","titlePadding":2}},
    "y":{"field":"q","type":"quantitative","scale":{"domain":[-10000,10000],"nice":false,"zero":false},"axis":{"orient":"left","values":[-10000,-7500,-5000,-2500,0,2500,5000,7500,10000],"labelExpr":"datum.value % 5000 !== 0 ? '' : format(datum.value, 'd')","labelFontSize":11,"tickSize":{"condition":{"test":"datum.value % 5000 !== 0","value":-3},"value":-6},"labelPadding":9,"title":"q\u1d63 (W/m\u00b2)","titlePadding":10}},
    "color":{"field":"s","type":"nominal","scale":{"domain":["5x1","3x8","5x10","14x25","100x200"],"range":["#000000","#ff0000","#00e000","#670748","#0000ff"]},"legend":null},
    "strokeDash":{"field":"s","type":"nominal","scale":{"domain":["5x1","3x8","5x10","14x25","100x200"],"range":[[6,3,1,3],[5,3],[1,2],[4,2,1,2,1,2],[1,0]]},"legend":null}
   }},
  {"mark":{"type":"point","filled":false,"strokeWidth":1,"size":81,"opacity":1,"clip":true},
   "encoding":{
    "x":{"field":"z","type":"quantitative","scale":{"domain":[0,4],"nice":false,"zero":false},"axis":{"orient":"top","values":[0,0.5,1,1.5,2,2.5,3,3.5,4],"labels":false,"title":null,"tickSize":{"condition":{"test":"datum.value % 1 !== 0","value":-3},"value":-6}}},
    "y":{"field":"q","type":"quantitative","scale":{"domain":[-10000,10000],"nice":false,"zero":false},"axis":{"orient":"right","values":[-10000,-7500,-5000,-2500,0,2500,5000,7500,10000],"labels":false,"title":null,"tickSize":{"condition":{"test":"datum.value % 5000 !== 0","value":-3},"value":-6}}},
    "color":{"field":"s","type":"nominal","scale":{"domain":["5x1","3x8","5x10","14x25","100x200"],"range":["#000000","#ff0000","#00e000","#670748","#0000ff"]},"legend":null},
    "shape":{"field":"s","type":"nominal","scale":{"domain":["5x1","3x8","5x10","14x25","100x200"],"range":["circle","square","triangle-up","M0,-1V1M-0.87,-0.5L0.87,0.5M-0.87,0.5L0.87,-0.5","M-1,0H1M0,-1V1"]},"legend":null}
   }},
  {"transform":[{"filter":"false"}],
   "mark":{"type":"point","filled":false,"strokeWidth":1,"size":100,"opacity":1},
   "encoding":{
    "color":{"field":"s","type":"nominal","scale":{"domain":["5x1","3x8","5x10","14x25","100x200"],"range":["#000000","#ff0000","#00e000","#670748","#0000ff"]},"legend":{"legendX":114,"legendY":117}},
    "shape":{"field":"s","type":"nominal","scale":{"domain":["5x1","3x8","5x10","14x25","100x200"],"range":["M-3.36,0A0.86,0.86 0 1,0 -1.64,0A0.86,0.86 0 1,0 -3.36,0M1.64,0A0.86,0.86 0 1,0 3.36,0A0.86,0.86 0 1,0 1.64,0M-1.64,0H-0.6M-0.2,0H0.2M0.6,0H1.64","M-3.3,-0.8H-1.7V0.8H-3.3ZM1.7,-0.8H3.3V0.8H1.7ZM-1.7,0H-0.3M0.3,0H1.7","M-2.5,-0.9L-1.6,0.7H-3.4ZM2.5,-0.9L3.4,0.7H1.6ZM-1.35,0H-1.15M-0.85,0H-0.65M-0.35,0H-0.15M0.15,0H0.35M0.65,0H0.85M1.15,0H1.35","M-2.5,-0.8V0.8M-3.19,-0.4L-1.81,0.4M-3.19,0.4L-1.81,-0.4M2.5,-0.8V0.8M1.81,-0.4L3.19,0.4M1.81,0.4L3.19,-0.4M-1.7,0H-0.8M-0.5,0H-0.3M0.3,0H0.5M0.8,0H1.7","M-3.4,0H3.4M-2.5,-0.9V0.9M2.5,-0.9V0.9"]},"legend":{"legendX":114,"legendY":117}}
   }}
 ]
},
{
 "width":267,"height":189,
 "title":{"text":"(d)"},
 "data":{"name":"d"},
 "resolve":{"scale":{"color":"independent","shape":"independent","strokeDash":"independent"},"axis":{"x":"independent","y":"independent"}},
 "layer":[
  {"mark":{"type":"line","strokeWidth":1,"clip":true},
   "encoding":{
    "x":{"field":"z","type":"quantitative","scale":{"domain":[-2,4],"nice":false,"zero":false},"axis":{"orient":"bottom","values":[-2,-1.5,-1,-0.5,0,0.5,1,1.5,2,2.5,3,3.5,4],"labelExpr":"datum.value % 1 !== 0 ? '' : format(datum.value, 'd')","tickSize":{"condition":{"test":"datum.value % 1 !== 0","value":-3},"value":-6},"labelPadding":8,"title":"z (m)","titlePadding":2}},
    "y":{"field":"q","type":"quantitative","scale":{"domain":[0,20000],"nice":false,"zero":false},"axis":{"orient":"left","values":[0,2500,5000,7500,10000,12500,15000,17500,20000],"labelExpr":"datum.value % 5000 !== 0 ? '' : format(datum.value, 'd')","labelFontSize":11,"tickSize":{"condition":{"test":"datum.value % 5000 !== 0","value":-3},"value":-6},"labelPadding":9,"title":"q\u1d63 (W/m\u00b2)","titlePadding":16}},
    "color":{"field":"s","type":"nominal","scale":{"domain":["5x10","10x25","14x25","100x200"],"range":["#00e000","#670748","#ff00ff","#0000ff"]},"legend":null},
    "strokeDash":{"field":"s","type":"nominal","scale":{"domain":["5x10","10x25","14x25","100x200"],"range":[[1,2],[5,2,1,2],[3,2,1,2,1,2],[1,0]]},"legend":null}
   }},
  {"transform":[{"window":[{"op":"row_number","as":"i"}],"groupby":["s"],"sort":[{"field":"z"}]},{"filter":"datum.s !== '5x10' || datum.i % 2 === 1"}],
   "mark":{"type":"point","filled":false,"strokeWidth":1,"size":81,"opacity":1,"clip":true},
   "encoding":{
    "x":{"field":"z","type":"quantitative","scale":{"domain":[-2,4],"nice":false,"zero":false},"axis":{"orient":"top","values":[-2,-1.5,-1,-0.5,0,0.5,1,1.5,2,2.5,3,3.5,4],"labels":false,"title":null,"tickSize":{"condition":{"test":"datum.value % 1 !== 0","value":-3},"value":-6}}},
    "y":{"field":"q","type":"quantitative","scale":{"domain":[0,20000],"nice":false,"zero":false},"axis":{"orient":"right","values":[0,2500,5000,7500,10000,12500,15000,17500,20000],"labels":false,"title":null,"tickSize":{"condition":{"test":"datum.value % 5000 !== 0","value":-3},"value":-6}}},
    "color":{"field":"s","type":"nominal","scale":{"domain":["5x10","10x25","14x25","100x200"],"range":["#00e000","#670748","#ff00ff","#0000ff"]},"legend":null},
    "shape":{"field":"s","type":"nominal","scale":{"domain":["5x10","10x25","14x25","100x200"],"range":["triangle-up","triangle-down","M0,-1V1M-0.87,-0.5L0.87,0.5M-0.87,0.5L0.87,-0.5","M-1,0H1M0,-1V1"]},"legend":null}
   }},
  {"transform":[{"filter":"false"}],
   "mark":{"type":"point","filled":false,"strokeWidth":1,"size":100,"opacity":1},
   "encoding":{
    "color":{"field":"s","type":"nominal","scale":{"domain":["5x10","10x25","14x25","100x200"],"range":["#00e000","#670748","#ff00ff","#0000ff"]},"legend":{"legendX":11,"legendY":14}},
    "shape":{"field":"s","type":"nominal","scale":{"domain":["5x10","10x25","14x25","100x200"],"range":["M-2.5,-0.9L-1.6,0.7H-3.4ZM2.5,-0.9L3.4,0.7H1.6ZM-1.35,0H-1.15M-0.85,0H-0.65M-0.35,0H-0.15M0.15,0H0.35M0.65,0H0.85M1.15,0H1.35","M-3.4,-0.7H-1.6L-2.5,0.9ZM1.6,-0.7H3.4L2.5,0.9ZM-1.6,0H-0.6M-0.2,0H0.2M0.6,0H1.6","M-2.5,-0.8V0.8M-3.19,-0.4L-1.81,0.4M-3.19,0.4L-1.81,-0.4M2.5,-0.8V0.8M1.81,-0.4L3.19,0.4M1.81,0.4L3.19,-0.4M-1.7,0H-0.8M-0.5,0H-0.3M0.3,0H0.5M0.8,0H1.7","M-3.4,0H3.4M-2.5,-0.9V0.9M2.5,-0.9V0.9"]},"legend":{"legendX":11,"legendY":14}}
   }}
 ]
}
]
}
